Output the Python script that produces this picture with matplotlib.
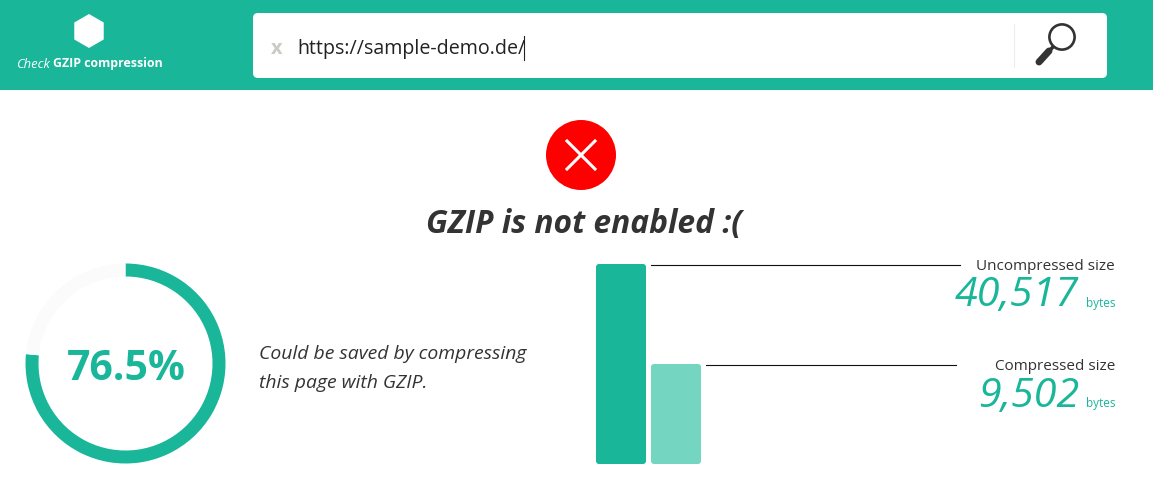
import matplotlib
matplotlib.use("Agg")
import matplotlib.pyplot as plt
from matplotlib.patches import Circle, FancyBboxPatch, Rectangle, RegularPolygon
from matplotlib.lines import Line2D

# Data
saved_percent = 76.5
size_labels = ["Uncompressed size", "Compressed size"]
size_bytes = [40517, 9502]
bar_heights = [200, 100]  # drawn heights as shown in the picture (not proportional to bytes)
url_text = "https://sample-demo.de/"
title_text = "GZIP is not enabled :("
note_lines = ["Could be saved by compressing", "this page with GZIP."]

W, H = 1153, 484
TEAL = "#19B69A"
LIGHT = "#74D6C1"
DARK = "#333333"
FONT = "Open Sans"
plt.rcParams["font.family"] = [FONT, "DejaVu Sans"]
px = 0.72  # px -> pt at dpi 100

fig = plt.figure(figsize=(W / 100, H / 100), dpi=100, facecolor="white")
ax = fig.add_axes([0, 0, 1, 1])
ax.set_xlim(0, W)
ax.set_ylim(H, 0)
ax.axis("off")

# Header band and search box
ax.add_patch(Rectangle((0, 0), W, 90, fc=TEAL, ec="none"))
ax.add_patch(FancyBboxPatch((257, 17), 846, 57, boxstyle="round,pad=4,rounding_size=5", fc="white", ec="none"))
ax.add_patch(RegularPolygon((89, 31), 6, radius=17, fc="white", ec="none"))
ax.text(16, 64, "Check", color="white", fontsize=13 * px, style="italic", va="center", ha="left")
ax.text(53, 63, "GZIP compression", color="white", fontsize=12.4 * px, weight="bold", va="center", ha="left")
ax.text(277, 49, "x", color="#C9CCC4", fontsize=20 * px, weight="bold", va="center", ha="center")
ax.text(297, 49, url_text, color="#222222", fontsize=19.6 * px, va="center", ha="left")
ax.add_line(Line2D([524, 524], [36, 60], color="#222222", lw=0.8))
ax.add_line(Line2D([1014, 1014], [24, 67], color="#ECEDEC", lw=0.8))
# Magnifier
ax.add_patch(Circle((1062, 37), 12.6, fc="white", ec="#333333", lw=1.9))
ax.add_line(Line2D([1053, 1050], [47, 50], color="#333333", lw=2.6))
ax.add_line(Line2D([1049, 1039], [51, 62], color="#333333", lw=5, solid_capstyle="round"))

# Error icon
ax.add_patch(Circle((581, 155), 35, fc="#FF0000", ec="none"))
ax.add_line(Line2D([567, 595], [141, 169], color="white", lw=2.2))
ax.add_line(Line2D([595, 567], [141, 169], color="white", lw=2.2))

ax.text(584, 225, title_text, color=DARK, fontsize=31.8 * px, weight="bold", style="italic", va="center", ha="center")

# Ring gauge
ring = fig.add_axes([25.5 / W, 1 - 463.5 / H, 200 / W, 200 / H])
ring.pie([saved_percent, 100 - saved_percent], colors=[TEAL, "#FAFBFA"], startangle=90, counterclock=False,
         radius=1.0, wedgeprops={"width": 0.13, "linewidth": 0})
ring.set_xlim(-1, 1)
ring.set_ylim(-1, 1)
ring.set_zorder(1)
ax.text(126, 369, f"{saved_percent}%", color=TEAL, fontsize=41 * px, weight="bold", va="center", ha="center", zorder=5)

for i, line in enumerate(note_lines):
    ax.text(259, 354 + 29 * i, line, color=DARK, fontsize=19.4 * px, style="italic", va="center", ha="left")

# Bars
bar_x = [621, 676]
bars = ax.bar(bar_x, [-h for h in bar_heights], width=50, bottom=464, color=[TEAL, LIGHT], linewidth=0)
for b, h in zip(bars, bar_heights):
    clip = FancyBboxPatch((b.get_x() + 3, 464 - h + 3), 44, h - 6, boxstyle="round,pad=3,rounding_size=3",
                          transform=ax.transData, fc="none", ec="none")
    ax.add_patch(clip)
    b.set_clip_path(clip)

# Leader lines
ax.add_line(Line2D([651, 960], [265, 265], color="#111111", lw=0.8))
ax.add_line(Line2D([706, 956], [365, 365], color="#111111", lw=0.8))

# Size labels
label_y = [267, 367]
value_y = [296, 397]
for lab, val, ly, vy in zip(size_labels, size_bytes, label_y, value_y):
    ax.text(1115, ly, lab, color=DARK, fontsize=15.3 * px, va="center", ha="right")
    ax.text(1079, vy, f"{val:,}", color=TEAL, fontsize=41.3 * px, style="italic", va="center", ha="right")
    ax.text(1115.5, vy + 7, "bytes", color=TEAL, fontsize=11.8 * px, va="center", ha="right")

fig.savefig("out.png", dpi=100, facecolor="white")
